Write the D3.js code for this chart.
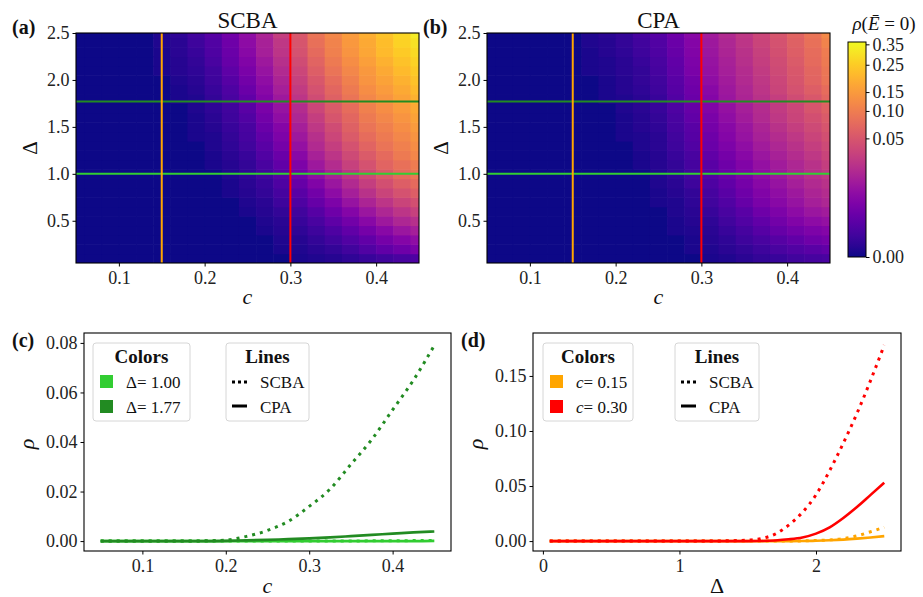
<!DOCTYPE html>
<html>
<head>
<meta charset="UTF-8">
<title>SCBA vs CPA</title>
<script src="https://d3js.org/d3.v7.min.js"></script>
<style>
  body { margin: 0; background: #fff; }
  svg { display: block; font-family: "Liberation Serif", "DejaVu Serif", serif; }
  .tick text { font-family: "Liberation Serif", "DejaVu Serif", serif; font-size: 18px; fill: #222; }
  .tick line { stroke: #000; stroke-width: 1; }
  .lbl { fill: #111; }
</style>
</head>
<body>
<script>
// ---- heatmap grid (rho at E=0) ----
const cGrid = [0.05, 0.07, 0.09, 0.11, 0.13, 0.15, 0.17, 0.19, 0.21, 0.23, 0.25,
               0.27, 0.29, 0.31, 0.33, 0.35, 0.37, 0.39, 0.41, 0.43, 0.45];
const deltaGrid = [0.1, 0.2, 0.3, 0.4, 0.5, 0.6, 0.7, 0.8, 0.9, 1.0, 1.1, 1.2, 1.3,
                   1.4, 1.5, 1.6, 1.7, 1.8, 1.9, 2.0, 2.1, 2.2, 2.3, 2.4, 2.5];

// rows follow deltaGrid, columns follow cGrid
const scbaMap = [
  [0,0,0,0,0,0,0, 0,0,0,0,0,0,8e-7,3e-6,8e-6,3.1e-5,8e-5,1.7e-4,3.1e-4,4.0e-4],
  [0,0,0,0,0,0,0, 0,0,0,0,0,8e-7,3e-6,1.7e-5,5.1e-5,1.7e-4,5.1e-4,1.18e-3,1.98e-3,3.09e-3],
  [0,0,0,0,0,0,0, 0,0,0,0,0,3e-6,8e-6,5.1e-5,1.7e-4,5.1e-4,1.18e-3,2.68e-3,4.58e-3,6.51e-3],
  [0,0,0,0,0,0,0, 0,0,0,0,8e-7,8e-6,3.1e-5,1.2e-4,4.0e-4,1.18e-3,2.68e-3,5.17e-3,8.94e-3,0.0120],
  [0,0,0,0,0,0,0, 0,0,0,0,3e-6,1.7e-5,8e-5,3.1e-4,9.8e-4,2.31e-3,5.17e-3,9.87e-3,0.0156,0.0200],
  [0,0,0,0,0,0,0, 0,0,0,8e-7,8e-6,5.1e-5,1.7e-4,6.5e-4,1.98e-3,4.58e-3,8.94e-3,0.0156,0.0233,0.0312],
  [0,0,0,0,0,0,0, 0,0,0,3e-6,1.7e-5,1.2e-4,4.0e-4,1.42e-3,3.54e-3,8.07e-3,0.0143,0.0233,0.0334,0.0434],
  [0,0,0,0,0,0,0, 0,0,8e-7,8e-6,5.1e-5,2.3e-4,8.0e-4,2.31e-3,5.81e-3,0.0120,0.0216,0.0334,0.0462,0.0586],
  [0,0,0,0,0,0,0, 0,0,8e-7,1.7e-5,8e-5,4.0e-4,1.42e-3,4.04e-3,8.94e-3,0.0170,0.0291,0.0434,0.0586,0.0732],
  [0,0,0,0,0,0,0, 0,0,3e-6,3.1e-5,1.7e-4,6.5e-4,2.31e-3,6.51e-3,0.0131,0.0233,0.0382,0.0553,0.0732,0.0901],
  [0,0,0,0,0,0,0, 0,8e-7,8e-6,5.1e-5,3.1e-4,1.18e-3,3.54e-3,9.87e-3,0.0184,0.0312,0.0462,0.0656,0.0813,0.0995],
  [0,0,0,0,0,0,0, 0,8e-7,1.7e-5,8e-5,5.1e-4,1.69e-3,5.17e-3,0.0131,0.0233,0.0382,0.0553,0.0732,0.0948,0.1150],
  [0,0,0,0,0,0,0, 0,3e-6,3.1e-5,1.7e-4,8.0e-4,2.68e-3,7.26e-3,0.0170,0.0291,0.0462,0.0656,0.0857,0.1045,0.1261],
  [0,0,0,0,0,0,0, 8e-7,3e-6,5.1e-5,2.3e-4,1.18e-3,3.54e-3,9.87e-3,0.0200,0.0357,0.0553,0.0772,0.0948,0.1150,0.138],
  [0,0,0,0,0,0,0, 8e-7,8e-6,8e-5,3.1e-4,1.69e-3,4.58e-3,0.0120,0.0252,0.0407,0.0620,0.0857,0.1045,0.1261,0.1506],
  [0,0,0,0,0,0,0, 8e-7,1.7e-5,1.2e-4,5.1e-4,2.31e-3,6.51e-3,0.0156,0.0291,0.0491,0.0693,0.0948,0.1150,0.138,0.1641],
  [0,0,0,0,0,0,0, 3e-6,3.1e-5,1.7e-4,8.0e-4,3.09e-3,8.07e-3,0.0184,0.0357,0.0553,0.0772,0.1045,0.1261,0.1506,0.1783],
  [0,0,0,0,0,0,8e-7, 3e-6,5.1e-5,3.1e-4,1.18e-3,4.04e-3,9.87e-3,0.0233,0.0407,0.0620,0.0857,0.1150,0.138,0.1641,0.1934],
  [0,0,0,0,0,0,8e-7, 8e-6,8e-5,4.0e-4,1.69e-3,5.17e-3,0.0120,0.0271,0.0462,0.0693,0.0948,0.1261,0.1506,0.1783,0.2094],
  [0,0,0,0,0,0,3e-6, 1.7e-5,1.2e-4,6.5e-4,2.31e-3,6.51e-3,0.0143,0.0312,0.0521,0.0772,0.1045,0.138,0.1641,0.1934,0.2263],
  [0,0,0,0,0,8e-7,8e-6, 3.1e-5,1.7e-4,9.8e-4,3.09e-3,8.07e-3,0.0170,0.0357,0.0586,0.0857,0.1150,0.1442,0.1783,0.2094,0.2441],
  [0,0,0,0,0,8e-7,8e-6, 5.1e-5,3.1e-4,1.42e-3,4.04e-3,9.87e-3,0.0200,0.0407,0.0656,0.0948,0.1261,0.1572,0.1934,0.2263,0.2628],
  [0,0,0,0,0,8e-7,1.7e-5, 8e-5,4.0e-4,1.69e-3,5.17e-3,0.0120,0.0233,0.0462,0.0732,0.1045,0.138,0.1711,0.2094,0.2441,0.2826],
  [0,0,0,0,0,3e-6,1.7e-5, 1.2e-4,5.1e-4,1.98e-3,5.81e-3,0.0131,0.0252,0.0491,0.0813,0.1097,0.1442,0.1783,0.2177,0.2628,0.303],
  [0,0,0,0,0,3e-6,3.1e-5, 1.7e-4,6.5e-4,2.31e-3,6.51e-3,0.0143,0.0291,0.0521,0.0857,0.1150,0.1506,0.1858,0.2263,0.2726,0.325]
];

const cpaMap = [
  [0,0,0,0,0,0,0, 0,0,0,0,0,0,8e-7,3e-6,1.7e-5,5.1e-5,8e-5,1.7e-4,2.3e-4,3.1e-4],
  [0,0,0,0,0,0,0, 0,0,0,0,0,8e-7,3e-6,1.7e-5,5.1e-5,1.2e-4,3.1e-4,5.1e-4,8.0e-4,1.18e-3],
  [0,0,0,0,0,0,0, 0,0,0,0,0,8e-7,8e-6,3.1e-5,1.2e-4,3.1e-4,6.5e-4,1.18e-3,1.98e-3,2.68e-3],
  [0,0,0,0,0,0,0, 0,0,0,0,8e-7,3e-6,1.7e-5,8e-5,2.3e-4,6.5e-4,1.42e-3,2.31e-3,3.54e-3,4.58e-3],
  [0,0,0,0,0,0,0, 0,0,0,0,8e-7,8e-6,3.1e-5,1.7e-4,5.1e-4,1.18e-3,2.31e-3,4.04e-3,5.81e-3,7.26e-3],
  [0,0,0,0,0,0,0, 0,0,0,0,3e-6,1.7e-5,8e-5,3.1e-4,8.0e-4,1.98e-3,3.54e-3,5.81e-3,8.94e-3,0.0109],
  [0,0,0,0,0,0,0, 0,0,0,8e-7,3e-6,3.1e-5,1.7e-4,5.1e-4,1.42e-3,3.09e-3,5.17e-3,8.07e-3,0.0120,0.0156],
  [0,0,0,0,0,0,0, 0,0,0,8e-7,8e-6,5.1e-5,2.3e-4,8.0e-4,1.98e-3,4.04e-3,6.51e-3,9.87e-3,0.0143,0.0184],
  [0,0,0,0,0,0,0, 0,0,0,3e-6,1.7e-5,1.2e-4,4.0e-4,1.18e-3,2.68e-3,5.17e-3,8.07e-3,0.0120,0.0170,0.0216],
  [0,0,0,0,0,0,0, 0,0,0,3e-6,3.1e-5,1.7e-4,6.5e-4,1.69e-3,3.54e-3,6.51e-3,9.87e-3,0.0143,0.0200,0.0252],
  [0,0,0,0,0,0,0, 0,0,8e-7,8e-6,5.1e-5,2.3e-4,8.0e-4,1.98e-3,4.04e-3,7.26e-3,0.0109,0.0156,0.0216,0.0291],
  [0,0,0,0,0,0,0, 0,0,8e-7,8e-6,8e-5,3.1e-4,1.18e-3,2.68e-3,5.17e-3,8.94e-3,0.0131,0.0184,0.0252,0.0334],
  [0,0,0,0,0,0,0, 0,0,3e-6,1.7e-5,1.2e-4,5.1e-4,1.69e-3,3.54e-3,6.51e-3,0.0109,0.0156,0.0216,0.0291,0.0382],
  [0,0,0,0,0,0,0, 0,8e-7,3e-6,1.7e-5,1.7e-4,6.5e-4,1.98e-3,4.58e-3,8.07e-3,0.0131,0.0184,0.0252,0.0334,0.0434],
  [0,0,0,0,0,0,0, 0,8e-7,8e-6,3.1e-5,2.3e-4,8.0e-4,2.68e-3,5.17e-3,8.94e-3,0.0143,0.0216,0.0291,0.0382,0.0491],
  [0,0,0,0,0,0,0, 0,8e-7,8e-6,5.1e-5,3.1e-4,1.18e-3,3.09e-3,6.51e-3,0.0109,0.0170,0.0252,0.0334,0.0434,0.0553],
  [0,0,0,0,0,0,0, 0,3e-6,1.7e-5,8e-5,4.0e-4,1.42e-3,4.04e-3,7.26e-3,0.0120,0.0184,0.0271,0.0357,0.0491,0.0620],
  [0,0,0,0,0,0,0, 8e-7,3e-6,1.7e-5,8e-5,5.1e-4,1.69e-3,4.58e-3,8.94e-3,0.0143,0.0216,0.0291,0.0407,0.0521,0.0693],
  [0,0,0,0,0,0,0, 8e-7,8e-6,3.1e-5,1.2e-4,6.5e-4,1.98e-3,5.17e-3,9.87e-3,0.0156,0.0233,0.0334,0.0462,0.0586,0.0772],
  [0,0,0,0,0,0,0, 8e-7,8e-6,5.1e-5,1.7e-4,8.0e-4,2.31e-3,6.51e-3,0.0109,0.0170,0.0252,0.0357,0.0491,0.0656,0.0857],
  [0,0,0,0,0,0,8e-7, 3e-6,1.7e-5,5.1e-5,2.3e-4,9.8e-4,3.09e-3,7.26e-3,0.0120,0.0184,0.0271,0.0382,0.0521,0.0693,0.0901],
  [0,0,0,0,0,0,8e-7, 3e-6,1.7e-5,8e-5,3.1e-4,1.18e-3,3.54e-3,8.07e-3,0.0131,0.0200,0.0291,0.0407,0.0553,0.0732,0.0948],
  [0,0,0,0,0,0,8e-7, 8e-6,3.1e-5,1.2e-4,4.0e-4,1.42e-3,4.04e-3,8.94e-3,0.0143,0.0216,0.0312,0.0434,0.0586,0.0772,0.0995],
  [0,0,0,0,0,0,3e-6, 8e-6,5.1e-5,1.7e-4,5.1e-4,1.69e-3,4.58e-3,9.87e-3,0.0156,0.0233,0.0334,0.0462,0.0620,0.0813,0.1097],
  [0,0,0,0,0,0,3e-6, 1.7e-5,5.1e-5,2.3e-4,6.5e-4,1.98e-3,5.17e-3,0.0109,0.0170,0.0252,0.0357,0.0491,0.0656,0.0857,0.1205]
];

const cbarTicks = [0, 0.05, 0.10, 0.15, 0.25, 0.35];
const markC = [0.15, 0.30];
const markDelta = [1.00, 1.77];

// ---- cuts along c (panel c) ----
const cLine = [0.05, 0.075, 0.1, 0.125, 0.15, 0.175, 0.2, 0.225, 0.25, 0.275, 0.3,
               0.325, 0.35, 0.375, 0.4, 0.425, 0.45];
const scbaD100 = [0,0,0,0,0,0,0,0,0,0,0,0,0,0.0001,0.0001,0.0002,0.0003];
const cpaD100  = [0,0,0,0,0,0,0,0,0,0,0,0,0,0,0,0,0.0001];
const scbaD177 = [0,0,0,0,0,0.0001,0.0004,0.0019,0.0043,0.008,0.014,0.021,0.031,0.041,0.053,0.065,0.079];
const cpaD177  = [0,0,0,0,0,0,0.0001,0.0003,0.0005,0.0008,0.0011,0.0015,0.002,0.0025,0.003,0.0035,0.0039];

// ---- cuts along Delta (panel d) ----
const deltaLine = [0.05, 0.25, 0.5, 0.75, 1.0, 1.25, 1.5, 1.6, 1.7, 1.8, 1.9, 2.0, 2.1,
                   2.2, 2.3, 2.4, 2.5];
const scbaC015 = [0,0,0,0,0,0,0,0,0,0.0001,0.0002,0.0005,0.0011,0.0022,0.0047,0.0085,0.0125];
const cpaC015  = [0,0,0,0,0,0,0,0,0,0,0.0001,0.0003,0.0007,0.0013,0.0022,0.0033,0.0045];
const scbaC030 = [0,0,0,0,0,0.0001,0.0008,0.0024,0.0063,0.0145,0.026,0.042,0.064,0.089,0.116,0.146,0.178];
const cpaC030  = [0,0,0,0,0,0,0,0.0001,0.0006,0.0016,0.0033,0.0068,0.0125,0.021,0.031,0.042,0.053];

const W = 923, H = 597;
const LIME = "#32cd32", FOREST = "#228b22", ORANGE = "#ffa500", RED = "#ff0000";

const svg = d3.select("body").append("svg")
    .attr("width", W)
    .attr("height", H);

// power norm, gamma 0.3
const norm = d3.scalePow().exponent(0.3).domain([0, 0.363]).clamp(true);
const colorOf = v => d3.interpolatePlasma(norm(v));

function frame(box) {
    svg.append("rect")
        .attr("x", box.l).attr("y", box.t)
        .attr("width", box.r - box.l).attr("height", box.b - box.t)
        .attr("fill", "none").attr("stroke", "#000").attr("stroke-width", 1.1);
}

function axes(box, x, y, xTicks, yTicks, xFmt, yFmt) {
    svg.append("g")
        .attr("transform", `translate(0,${box.b})`)
        .call(d3.axisBottom(x).tickValues(xTicks).tickFormat(xFmt).tickSize(3.5).tickPadding(5))
        .call(g => g.select(".domain").remove());
    svg.append("g")
        .attr("transform", `translate(${box.l},0)`)
        .call(d3.axisLeft(y).tickValues(yTicks).tickFormat(yFmt).tickSize(3.5).tickPadding(3))
        .call(g => g.select(".domain").remove());
}

function text(x, y, s, opts = {}) {
    const t = svg.append("text")
        .attr("class", "lbl")
        .attr("x", x).attr("y", y)
        .attr("font-size", opts.size || 18)
        .attr("text-anchor", opts.anchor || "start")
        .attr("font-weight", opts.bold ? "bold" : null)
        .attr("font-style", opts.italic ? "italic" : null);
    if (opts.rotate) t.attr("transform", `rotate(-90,${x},${y})`);
    t.text(s);
    return t;
}

// ---------- heatmaps ----------
function heatmap(box, data, id, title, tag) {
    const x = d3.scaleLinear().domain([0.05, 0.45]).range([box.l, box.r]);
    const y = d3.scaleLinear().domain([0.05, 2.5]).range([box.b, box.t]);

    svg.append("clipPath").attr("id", id)
        .append("rect")
        .attr("x", box.l).attr("y", box.t)
        .attr("width", box.r - box.l).attr("height", box.b - box.t);

    const cells = [];
    deltaGrid.forEach((d, i) => cGrid.forEach((c, j) => cells.push({c: c, d: d, v: data[i][j]})));

    const cw = x(0.07) - x(0.05);
    const ch = y(0) - y(0.1);
    svg.append("g")
        .attr("clip-path", `url(#${id})`)
        .selectAll("rect")
        .data(cells)
        .join("rect")
        .attr("x", d => x(d.c) - cw / 2)
        .attr("y", d => y(d.d) - ch / 2)
        .attr("width", cw + 0.6)
        .attr("height", ch + 0.6)
        .attr("fill", d => colorOf(d.v));

    const marks = svg.append("g").attr("clip-path", `url(#${id})`);
    markDelta.forEach((d, i) => {
        marks.append("line")
            .attr("x1", box.l).attr("x2", box.r)
            .attr("y1", y(d)).attr("y2", y(d))
            .attr("stroke", i === 0 ? LIME : FOREST).attr("stroke-width", 2);
    });
    markC.forEach((c, i) => {
        marks.append("line")
            .attr("x1", x(c)).attr("x2", x(c))
            .attr("y1", box.t).attr("y2", box.b)
            .attr("stroke", i === 0 ? ORANGE : RED).attr("stroke-width", 2);
    });

    frame(box);
    axes(box, x, y, [0.1, 0.2, 0.3, 0.4], [0.5, 1.0, 1.5, 2.0, 2.5], d3.format(".1f"), d3.format(".1f"));

    const mid = (box.l + box.r) / 2;
    text(mid, 28, title, {size: 23, anchor: "middle"});
    text(mid, 304, "c", {size: 22, anchor: "middle", italic: true});
    text(box.l - 39, (box.t + box.b) / 2, "Δ", {size: 21, anchor: "middle", rotate: true});
    text(box.l - 64, 34, tag, {size: 20, bold: true});
}

heatmap({l: 76, r: 419, t: 33, b: 263}, scbaMap, "clipA", "SCBA", "(a)");
heatmap({l: 487, r: 830, t: 33, b: 263}, cpaMap, "clipB", "CPA", "(b)");

// ---------- colorbar ----------
const cb = {l: 848, r: 866, t: 42, b: 257};
const cbDefs = svg.append("defs").append("linearGradient")
    .attr("id", "plasmaGrad")
    .attr("x1", 0).attr("y1", 1).attr("x2", 0).attr("y2", 0);
d3.range(0, 1.0001, 0.05).forEach(s => {
    cbDefs.append("stop").attr("offset", s).attr("stop-color", d3.interpolatePlasma(s));
});
svg.append("rect")
    .attr("x", cb.l).attr("y", cb.t)
    .attr("width", cb.r - cb.l).attr("height", cb.b - cb.t)
    .attr("fill", "url(#plasmaGrad)")
    .attr("stroke", "#000").attr("stroke-width", 1);
const cbScale = d3.scalePow().exponent(0.3).domain([0, 0.363]).range([cb.b, cb.t]);
svg.append("g")
    .attr("transform", `translate(${cb.r},0)`)
    .call(d3.axisRight(cbScale).tickValues(cbarTicks).tickFormat(d3.format(".2f")).tickSize(3.5).tickPadding(3))
    .call(g => g.select(".domain").remove());
{
    const t = svg.append("text").attr("class", "lbl").attr("x", 884).attr("y", 30)
        .attr("font-size", 19).attr("text-anchor", "middle");
    t.append("tspan").attr("font-style", "italic").text("ρ");
    t.append("tspan").text("(");
    t.append("tspan").attr("font-style", "italic").text("Ē");
    t.append("tspan").text(" = 0)");
}

// ---------- line panels ----------
function legendBox(x0, y0, w, h) {
    svg.append("rect")
        .attr("x", x0).attr("y", y0).attr("width", w).attr("height", h)
        .attr("rx", 3).attr("fill", "#fff").attr("fill-opacity", 0.8)
        .attr("stroke", "#d6d6d6").attr("stroke-width", 1);
}

function linePanel(box, x, y, xs, series, xTicks, yTicks, xFmt, yFmt, xLabel, xItalic, tag, legend) {
    svg.append("clipPath").attr("id", tag.replace(/\W/g, ""))
        .append("rect")
        .attr("x", box.l).attr("y", box.t)
        .attr("width", box.r - box.l).attr("height", box.b - box.t);

    const line = d3.line()
        .x((d, i) => x(xs[i]))
        .y(d => y(d))
        .curve(d3.curveMonotoneX);

    const g = svg.append("g").attr("clip-path", `url(#${tag.replace(/\W/g, "")})`);
    series.forEach(s => {
        g.append("path")
            .attr("d", line(s.values))
            .attr("fill", "none")
            .attr("stroke", s.color)
            .attr("stroke-width", s.dotted ? 3 : 2.6)
            .attr("stroke-dasharray", s.dotted ? "3,5" : null);
    });

    frame(box);
    axes(box, x, y, xTicks, yTicks, xFmt, yFmt);

    text((box.l + box.r) / 2, 593, xLabel, {size: 22, anchor: "middle", italic: xItalic});
    text(box.l - 50, (box.t + box.b) / 2 + 2, "ρ", {size: 22, anchor: "middle", italic: true, rotate: true});
    text(box.l - 72, 347, tag, {size: 20, bold: true});

    // Colors legend
    const L = legend;
    legendBox(L.cx, 343, L.cw, 78);
    text(L.cx + L.cw / 2, 363, "Colors", {size: 19, anchor: "middle", bold: true});
    L.colors.forEach((e, i) => {
        svg.append("rect")
            .attr("x", L.cx + 7).attr("y", 375 + i * 25)
            .attr("width", 13).attr("height", 13)
            .attr("fill", e.color);
        const t = svg.append("text").attr("class", "lbl")
            .attr("x", L.cx + 33).attr("y", 388 + i * 25).attr("font-size", 17);
        t.append("tspan").attr("font-style", L.italicSym ? "italic" : null).text(L.sym);
        t.append("tspan").text("= " + e.label);
    });

    // Lines legend
    legendBox(L.lx, 343, L.lw, 78);
    text(L.lx + L.lw / 2, 363, "Lines", {size: 19, anchor: "middle", bold: true});
    [{label: "SCBA", dotted: true}, {label: "CPA", dotted: false}].forEach((e, i) => {
        svg.append("line")
            .attr("x1", L.lx + 6).attr("x2", L.lx + 21)
            .attr("y1", 382 + i * 24).attr("y2", 382 + i * 24)
            .attr("stroke", "#000")
            .attr("stroke-width", e.dotted ? 3 : 3)
            .attr("stroke-dasharray", e.dotted ? "3,3" : null);
        text(L.lx + 34, 388 + i * 25, e.label, {size: 17});
    });
}

// panel (c)
{
    const box = {l: 84, r: 451, t: 333, b: 551};
    const x = d3.scaleLinear().domain([0.03, 0.47]).range([box.l, box.r]);
    const y = d3.scaleLinear().domain([-0.004, 0.084]).range([box.b, box.t]);
    linePanel(box, x, y, cLine, [
        {values: cpaD100, color: LIME, dotted: false},
        {values: scbaD100, color: LIME, dotted: true},
        {values: cpaD177, color: FOREST, dotted: false},
        {values: scbaD177, color: FOREST, dotted: true}
    ], [0.1, 0.2, 0.3, 0.4], [0, 0.02, 0.04, 0.06, 0.08], d3.format(".1f"), d3.format(".2f"),
    "c", true, "(c)", {
        cx: 93, cw: 97, lx: 226, lw: 83, sym: "Δ", italicSym: false,
        colors: [{color: LIME, label: markDelta[0].toFixed(2)}, {color: FOREST, label: markDelta[1].toFixed(2)}]
    });
}

// panel (d)
{
    const box = {l: 533, r: 901, t: 333, b: 551};
    const x = d3.scaleLinear().domain([-0.0725, 2.6225]).range([box.l, box.r]);
    const y = d3.scaleLinear().domain([-0.009, 0.189]).range([box.b, box.t]);
    linePanel(box, x, y, deltaLine, [
        {values: cpaC015, color: ORANGE, dotted: false},
        {values: scbaC015, color: ORANGE, dotted: true},
        {values: cpaC030, color: RED, dotted: false},
        {values: scbaC030, color: RED, dotted: true}
    ], [0, 1, 2], [0, 0.05, 0.10, 0.15], d3.format("d"), d3.format(".2f"),
    "Δ", false, "(d)", {
        cx: 543, cw: 90, lx: 675, lw: 84, sym: "c", italicSym: true,
        colors: [{color: ORANGE, label: markC[0].toFixed(2)}, {color: RED, label: markC[1].toFixed(2)}]
    });
}
</script>
</body>
</html>
